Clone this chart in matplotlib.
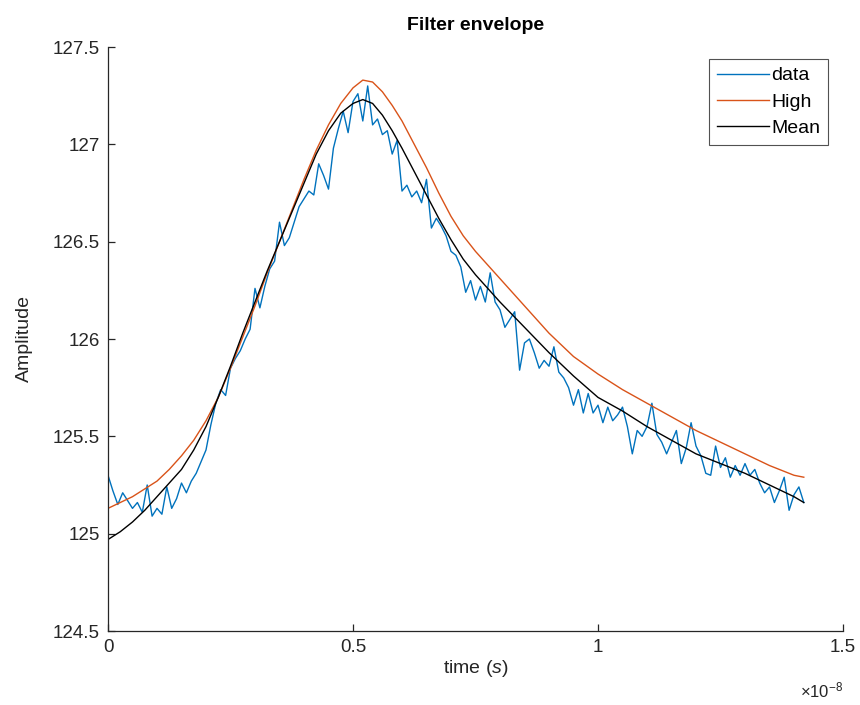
import numpy as np
import matplotlib
matplotlib.use("Agg")
import matplotlib.pyplot as plt

plt.rcParams['font.family'] = ['Liberation Sans', 'DejaVu Sans']
plt.rcParams['mathtext.fontset'] = 'custom'
plt.rcParams['mathtext.rm'] = 'Liberation Sans'
plt.rcParams['mathtext.it'] = 'Liberation Sans:italic'

# sample spacing of data (s)
dt = 1e-10

data_values = [
    125.30, 125.22, 125.15, 125.21, 125.17, 125.13, 125.16, 125.11, 125.25, 125.09,
    125.13, 125.10, 125.24, 125.13, 125.18, 125.26, 125.21, 125.27, 125.31, 125.37,
    125.43, 125.56, 125.67, 125.74, 125.71, 125.85, 125.90, 125.94, 126.00, 126.05,
    126.26, 126.16, 126.27, 126.36, 126.40, 126.60, 126.48, 126.52, 126.60, 126.68,
    126.72, 126.76, 126.74, 126.90, 126.84, 126.77, 126.98, 127.08, 127.17, 127.06,
    127.22, 127.26, 127.12, 127.30, 127.10, 127.13, 127.05, 127.07, 126.95, 127.02,
    126.76, 126.79, 126.73, 126.76, 126.70, 126.82, 126.57, 126.62, 126.58, 126.53,
    126.45, 126.43, 126.37, 126.24, 126.30, 126.20, 126.27, 126.19, 126.34, 126.19,
    126.15, 126.06, 126.10, 126.14, 125.84, 125.98, 126.00, 125.93, 125.85, 125.89,
    125.86, 125.96, 125.83, 125.80, 125.75, 125.66, 125.74, 125.62, 125.72, 125.62,
    125.66, 125.57, 125.65, 125.58, 125.61, 125.65, 125.55, 125.41, 125.53, 125.50,
    125.55, 125.67, 125.51, 125.47, 125.41, 125.47, 125.53, 125.36, 125.44, 125.57,
    125.45, 125.40, 125.31, 125.30, 125.45, 125.34, 125.39, 125.29, 125.35, 125.30,
    125.36, 125.30, 125.33, 125.26, 125.21, 125.24, 125.16, 125.22, 125.29, 125.12,
    125.20, 125.24, 125.16,
]

# envelope sample times (units of 1e-8 s)
env_t = [0.00, 0.025, 0.05, 0.075, 0.10, 0.125, 0.15, 0.175, 0.20, 0.225, 0.25,
         0.275, 0.30, 0.325, 0.35, 0.375, 0.40, 0.425, 0.45, 0.475, 0.50, 0.52,
         0.54, 0.56, 0.58, 0.60, 0.625, 0.65, 0.675, 0.70, 0.725, 0.75, 0.775,
         0.80, 0.85, 0.90, 0.95, 1.00, 1.05, 1.10, 1.15, 1.20, 1.25, 1.30, 1.35,
         1.40, 1.42]
high_values = [125.13, 125.16, 125.19, 125.23, 125.27, 125.33, 125.40, 125.48, 125.58,
               125.70, 125.85, 126.01, 126.17, 126.34, 126.50, 126.66, 126.82, 126.97,
               127.10, 127.21, 127.29, 127.33, 127.32, 127.27, 127.20, 127.12, 127.00,
               126.88, 126.75, 126.63, 126.53, 126.45, 126.38, 126.31, 126.17, 126.03,
               125.91, 125.82, 125.74, 125.67, 125.60, 125.53, 125.47, 125.41, 125.35,
               125.30, 125.29]
mean_values = [124.97, 125.01, 125.06, 125.12, 125.19, 125.26, 125.33, 125.43, 125.55,
               125.70, 125.86, 126.03, 126.19, 126.35, 126.50, 126.65, 126.80, 126.95,
               127.07, 127.16, 127.21, 127.23, 127.21, 127.15, 127.07, 126.98, 126.86,
               126.74, 126.62, 126.51, 126.41, 126.33, 126.26, 126.19, 126.06, 125.93,
               125.81, 125.70, 125.63, 125.55, 125.48, 125.41, 125.36, 125.31, 125.25,
               125.19, 125.16]

series_labels = ['data', 'High', 'Mean']
x_ticks = [0, 0.5e-8, 1.0e-8, 1.5e-8]
x_tick_labels = ['0', '0.5', '1', '1.5']
y_ticks = [124.5, 125, 125.5, 126, 126.5, 127, 127.5]
y_tick_labels = ['124.5', '125', '125.5', '126', '126.5', '127', '127.5']

t_data = np.arange(len(data_values)) * dt
t_env = np.array(env_t) * 1e-8

fig = plt.figure(figsize=(8.6, 7.05), dpi=100)
ax = fig.add_axes([108/860, 1-631/705, (843-108)/860, (631-47)/705])

ax.plot(t_data, data_values, color='#0072BD', lw=1.0, label=series_labels[0])
ax.plot(t_env, high_values, color='#D95319', lw=1.0, label=series_labels[1])
ax.plot(t_env, mean_values, color='black', lw=1.0, label=series_labels[2])

ax.set_xlim(0, 1.5e-8)
ax.set_ylim(124.5, 127.5)
ax.set_xticks(x_ticks)
ax.set_xticklabels(x_tick_labels)
ax.set_yticks(y_ticks)
ax.set_yticklabels(y_tick_labels)

axis_col = '#262626'
for s in ['top', 'right']:
    ax.spines[s].set_visible(False)
for s in ['left', 'bottom']:
    ax.spines[s].set_color(axis_col)
    ax.spines[s].set_linewidth(0.9)
ax.tick_params(direction='in', length=5, width=0.9, colors=axis_col,
               labelsize=13.5, pad=6)

fig.text(843/860, 1-690/705, r'$\times\mathregular{10^{-8}}$', fontsize=12,
         color=axis_col, ha='right', va='center')

ax.set_xlabel(r'time $\mathit{(s)}$', fontsize=14, color=axis_col, labelpad=1)
ax.set_ylabel('Amplitude', fontsize=14, color=axis_col, labelpad=14)
ax.set_title('Filter envelope', fontsize=14, fontweight='bold', color='black', pad=12)

leg = ax.legend(loc='upper right', bbox_to_anchor=(828/860, 1-59/705),
                bbox_transform=fig.transFigure, fontsize=14, frameon=True,
                fancybox=False, handlelength=2.7, handletextpad=0.1,
                labelspacing=0.45, borderpad=0.4, borderaxespad=0)
leg.get_frame().set_edgecolor(axis_col)
leg.get_frame().set_linewidth(0.8)

fig.savefig('out.png', dpi=100, facecolor='white')
